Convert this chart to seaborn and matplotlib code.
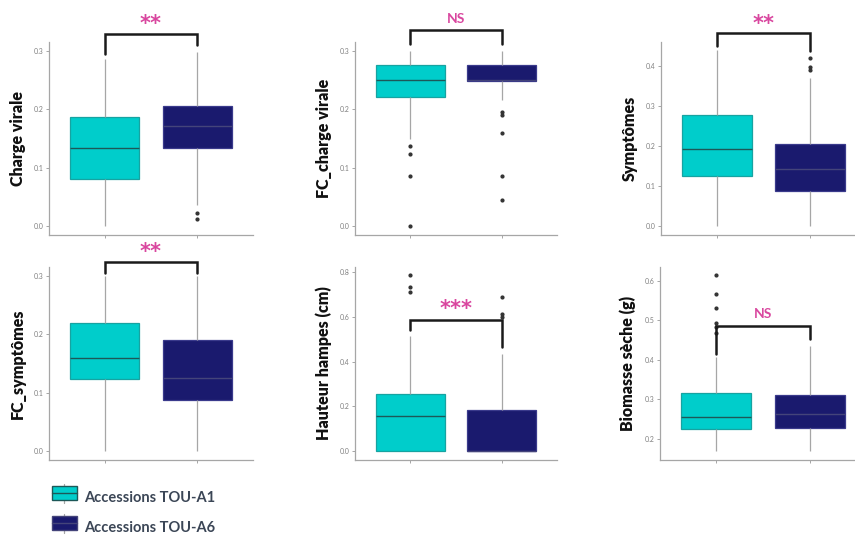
import numpy as np
import pandas as pd
import matplotlib.pyplot as plt
import seaborn as sns
from matplotlib.patches import Patch, Rectangle
from matplotlib.lines import Line2D
from matplotlib.legend_handler import HandlerBase
from matplotlib.ticker import FixedLocator, FormatStrFormatter

# ─────────────────────────────────────────
# 1. VALUES
#    summary = [whisker low, Q1, median, Q3, whisker high]
# ─────────────────────────────────────────
groups = ['Accessions TOU-A1', 'Accessions TOU-A6']

charge_a1 = [0.000, 0.080, 0.134, 0.186, 0.286]
charge_a6 = [0.036, 0.134, 0.172, 0.205, 0.298]
charge_a1_out = []
charge_a6_out = [0.022, 0.012]

fc_charge_a1 = [0.150, 0.221, 0.250, 0.276, 0.300]
fc_charge_a6 = [0.215, 0.249, 0.250, 0.276, 0.300]
fc_charge_a1_out = [0.137, 0.124, 0.086, 0.000]
fc_charge_a6_out = [0.195, 0.191, 0.159, 0.086, 0.044]

sympt_a1 = [0.000, 0.125, 0.193, 0.277, 0.439]
sympt_a6 = [0.000, 0.087, 0.143, 0.206, 0.369]
sympt_a1_out = []
sympt_a6_out = [0.419, 0.397, 0.389]

fc_sympt_a1 = [0.000, 0.124, 0.160, 0.220, 0.300]
fc_sympt_a6 = [0.000, 0.087, 0.125, 0.191, 0.300]
fc_sympt_a1_out = []
fc_sympt_a6_out = []

hampes_a1 = [0.000, 0.000, 0.156, 0.258, 0.513]
hampes_a6 = [0.000, 0.000, 0.000, 0.183, 0.436]
hampes_a1_out = [0.786, 0.733, 0.713]
hampes_a6_out = [0.689, 0.615, 0.600]

biomasse_a1 = [0.170, 0.225, 0.256, 0.316, 0.408]
biomasse_a6 = [0.170, 0.227, 0.262, 0.311, 0.436]
biomasse_a1_out = [0.615, 0.566, 0.531, 0.494, 0.484, 0.468]
biomasse_a6_out = []

ylabels = ['Charge virale', 'FC_charge virale', 'Symptômes',
           'FC_symptômes', 'Hauteur hampes (cm)', 'Biomasse sèche (g)']
signif = ['**', 'NS', '**', '**', '***', 'NS']

# ─────────────────────────────────────────
# 2. LAYOUT / STYLE
# ─────────────────────────────────────────
A1, A6 = '#00CDCB', '#1A1A6E'
A1_EDGE, A6_EDGE = '#17a3a1', '#3a3a8c'
A1_MED, A6_MED = '#1d5858', '#44447a'
GREY = '#a6a6a6'
PINK = '#d9479f'

# axes boxes in pixels (left, top, right, bottom) on the 855x536 canvas
axes_px = [(49, 42, 253, 235), (355, 42, 557, 235), (661, 42, 866, 235),
           (49, 267, 253, 460), (355, 267, 557, 460), (660, 267, 866, 460)]
ylims = [(-0.015, 0.315), (-0.015, 0.315), (-0.022, 0.459),
         (-0.015, 0.315), (-0.039, 0.823), (0.146, 0.635)]
yticks = [[0, .1, .2, .3], [0, .1, .2, .3], [0, .1, .2, .3, .4],
          [0, .1, .2, .3], [0, .2, .4, .6, .8], [.2, .3, .4, .5, .6]]
# bracket: y at left foot, y of bar, y at right foot, y of text
brackets = [(0.295, 0.328, 0.310, 0.345), (0.311, 0.335, 0.311, 0.354),
            (0.450, 0.481, 0.436, 0.503), (0.304, 0.324, 0.304, 0.340),
            (0.540, 0.585, 0.466, 0.635), (0.415, 0.486, 0.452, 0.516)]


def expand(summary, outliers):
    # one point at each whisker end plus a block at each quartile,
    # so seaborn recomputes exactly the same box even with outliers added
    lo, q1, med, q3, hi = summary
    return [lo] + [q1] * 20 + [med] * 20 + [q3] * 20 + [hi] + list(outliers)


panels = [
    (charge_a1, charge_a1_out, charge_a6, charge_a6_out),
    (fc_charge_a1, fc_charge_a1_out, fc_charge_a6, fc_charge_a6_out),
    (sympt_a1, sympt_a1_out, sympt_a6, sympt_a6_out),
    (fc_sympt_a1, fc_sympt_a1_out, fc_sympt_a6, fc_sympt_a6_out),
    (hampes_a1, hampes_a1_out, hampes_a6, hampes_a6_out),
    (biomasse_a1, biomasse_a1_out, biomasse_a6, biomasse_a6_out),
]

sns.set_theme(style='white')
plt.rcParams['font.family'] = ['Lato', 'DejaVu Sans']

W, H = 855, 536
fig = plt.figure(figsize=(W / 100, H / 100), dpi=100, facecolor='white')

for i, (s1, o1, s6, o6) in enumerate(panels):
    l, t, r, b = axes_px[i]
    ax = fig.add_axes([l / W, 1 - b / H, (r - l) / W, (b - t) / H])

    v1, v6 = expand(s1, o1), expand(s6, o6)
    d = pd.DataFrame({'group': [groups[0]] * len(v1) + [groups[1]] * len(v6),
                      'value': v1 + v6})
    sns.boxplot(data=d, x='group', y='value', hue='group', order=groups,
                hue_order=groups, palette=[A1, A6], saturation=1,
                width=0.75, linewidth=0.9,
                whiskerprops={'color': GREY, 'linewidth': 0.9},
                capprops={'visible': False},
                flierprops={'marker': 'o', 'markersize': 2.0,
                            'markerfacecolor': '#333333',
                            'markeredgecolor': '#333333'},
                legend=False, ax=ax)
    for cont, ec, mc in zip(ax.containers, [A1_EDGE, A6_EDGE], [A1_MED, A6_MED]):
        for bx in cont.boxes:
            bx.set_edgecolor(ec)
        for md in cont.medians:
            md.set_color(mc)
            md.set_linewidth(1.0)

    ax.set_xlim(-0.6, 1.6)
    ax.set_ylim(*ylims[i])
    ax.yaxis.set_major_locator(FixedLocator(yticks[i]))
    ax.yaxis.set_major_formatter(FormatStrFormatter('%.1f'))
    ax.set_xticks([0, 1])
    ax.set_xticklabels([])
    ax.set_xlabel('')
    ax.set_ylabel(ylabels[i], fontsize=11.5, fontweight='heavy', color='#111111')
    ax.yaxis.set_label_coords(-0.115, 0.5)
    ax.tick_params(axis='both', length=2, width=0.7, color=GREY,
                   labelsize=5, labelcolor='#808080', pad=2, left=True, bottom=True)
    sns.despine(ax=ax)
    for sp in ['left', 'bottom']:
        ax.spines[sp].set_color(GREY)
        ax.spines[sp].set_linewidth(0.9)

    yl, yb, yr, yt = brackets[i]
    ax.plot([0, 0, 1, 1], [yl, yb, yb, yr], color='#1a1a1a', lw=1.8,
            clip_on=False, solid_joinstyle='miter')
    if signif[i] == 'NS':
        ax.text(0.5, yt, 'NS', color=PINK, fontsize=10, fontweight='bold',
                ha='center', va='center', clip_on=False)
    else:
        ax.text(0.5, yt, signif[i], color=PINK, fontsize=15, fontweight='bold',
                ha='center', va='center', clip_on=False, family='DejaVu Sans')


# ─────────────────────────────────────────
# 3. LEGEND (boxplot-shaped keys)
# ─────────────────────────────────────────
class BoxKey(HandlerBase):
    def create_artists(self, legend, orig, xd, yd, w, h, fontsize, trans):
        fc, ec = orig.get_facecolor(), orig.get_edgecolor()
        whisk = Line2D([xd + w / 2] * 2, [yd - h * 0.2, yd + h * 1.2],
                       color=GREY, lw=0.9, transform=trans)
        box = Rectangle((xd, yd), w, h, facecolor=fc, edgecolor=ec, lw=1,
                        transform=trans)
        med = Line2D([xd, xd + w], [yd + h / 2] * 2, color=ec, lw=1,
                     transform=trans)
        return [whisk, box, med]


handles = [Patch(facecolor=A1, edgecolor=A1_MED), Patch(facecolor=A6, edgecolor=A6_MED)]
fig.legend(handles, groups, handler_map={Patch: BoxKey()},
           loc='upper left', bbox_to_anchor=(52 / W, 1 - 490 / H),
           frameon=False, handlelength=1.7, handleheight=1.05,
           labelspacing=1.05, handletextpad=0.5, borderaxespad=0, borderpad=0,
           prop={'weight': 'bold', 'size': 10.5}, labelcolor='#3b4656')

plt.savefig('out.png', dpi=100, facecolor='white')
